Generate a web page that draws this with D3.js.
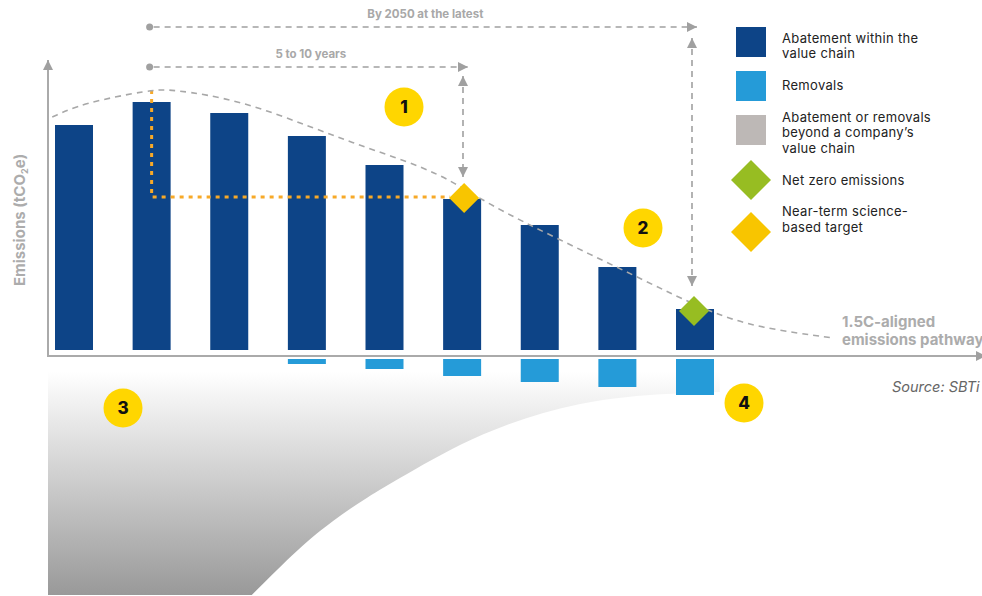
<!DOCTYPE html>
<html>
<head>
<meta charset="utf-8">
<script src="https://cdn.jsdelivr.net/npm/d3@7"></script>
<style>
  body { margin: 0; background: #fff; }
  svg { display: block; font-family: Inter, "Open Sans", sans-serif; }
</style>
</head>
<body>
<div id="chart"></div>
<script>
// periods along the x axis (index of each bar)
var periods = [0, 1, 2, 3, 4, 5, 6, 7, 8];
// abatement within the value chain (above the axis)
var abatement = [225, 248, 237, 214, 185, 151, 125, 83, 41];
// removals (below the axis)
var removals = [0, 0, 0, 5, 10, 17, 23, 28, 36];
// 1.5C-aligned emissions pathway, [period, value]
var pathway = [[-0.28, 233], [0.12, 247], [0.98, 260], [1.24, 261], [2.14, 250], [3.08, 222],
    [3.85, 200], [4.72, 177], [5.3, 147], [6.26, 110], [7.26, 73], [8.2, 37], [8.84, 22], [9.78, 12]];
// markers
var nearTerm = { period: 5, value: 153 };
var netZero = { period: 8, value: 39 };
var baseYear = { period: 1, value: 260 };
// boundary of the "beyond value chain" area, [period, removal value]
var beyondEdge = [[2.29, 236], [2.91, 188], [3.34, 161], [3.78, 138], [4.2, 119], [5.23, 73],
    [6.52, 41], [7.72, 34], [8.32, 33]];

var legendItems = [
    { label: ["Abatement within the", "value chain"], color: "#0d4487", shape: "square" },
    { label: ["Removals"], color: "#259bd8", shape: "square" },
    { label: ["Abatement or removals", "beyond a company\u2019s", "value chain"], color: "#bdb8b6", shape: "square" },
    { label: ["Net zero emissions"], color: "#97bd22", shape: "diamond" },
    { label: ["Near-term science-", "based target"], color: "#f8c500", shape: "diamond" }
];

var width = 982, height = 596;
var svg = d3.select("#chart").append("svg")
    .attr("width", width).attr("height", height);

var x = d3.scaleLinear().domain([0, 8]).range([74, 695]);
var y = d3.scaleLinear().domain([0, 250]).range([350, 100]);
var yr = d3.scaleLinear().domain([0, 50]).range([359, 409]);
var barW = 38;
var axisGray = "#aaaaaa";

var defs = svg.append("defs");
var grad = defs.append("linearGradient").attr("id", "fade")
    .attr("gradientUnits", "userSpaceOnUse")
    .attr("x1", 0).attr("y1", 372).attr("x2", 0).attr("y2", 595);
grad.append("stop").attr("offset", 0).attr("stop-color", "#ffffff");
grad.append("stop").attr("offset", 1).attr("stop-color", "#999999");

defs.append("marker").attr("id", "arrow")
    .attr("viewBox", "0 0 10 10").attr("refX", 10).attr("refY", 5)
    .attr("markerWidth", 13).attr("markerHeight", 10)
    .attr("markerUnits", "userSpaceOnUse")
    .attr("orient", "auto-start-reverse")
    .append("path").attr("d", "M0,0 L10,5 L0,10 Z").attr("fill", "#a0a0a0");

// gray area (3) below the chart: top edge, then the curve from right to left
var edge = d3.line().x(function (d) { return x(d[0]); }).y(function (d) { return yr(d[1]); })
    .curve(d3.curveBasis);
var revEdge = edge(beyondEdge.slice().reverse());
svg.append("path")
    .attr("d", "M48,364 L" + x(8.32) + ",364 L" + revEdge.slice(1) + " L48,595 Z")
    .attr("fill", "url(#fade)");

// axes
svg.append("line").attr("x1", 48).attr("x2", 48).attr("y1", 356).attr("y2", 60)
    .attr("stroke", axisGray).attr("stroke-width", 2).attr("marker-end", "url(#arrow)");
svg.append("line").attr("x1", 47).attr("x2", 986).attr("y1", 356).attr("y2", 356)
    .attr("stroke", axisGray).attr("stroke-width", 2).attr("marker-end", "url(#arrow)");

// abatement bars
svg.append("g").selectAll("rect").data(periods).enter().append("rect")
    .attr("x", function (d) { return x(d) - barW / 2; })
    .attr("y", function (d) { return y(abatement[d]); })
    .attr("width", barW)
    .attr("height", function (d) { return y(0) - y(abatement[d]); })
    .attr("fill", "#0d4487");

// removal bars
svg.append("g").selectAll("rect").data(periods.filter(function (d) { return removals[d] > 0; })).enter().append("rect")
    .attr("x", function (d) { return x(d) - barW / 2; })
    .attr("y", yr(0))
    .attr("width", barW)
    .attr("height", function (d) { return yr(removals[d]) - yr(0); })
    .attr("fill", "#259bd8");

// orange base-year -> near-term lines
svg.append("path")
    .attr("d", "M" + x(baseYear.period) + "," + y(baseYear.value) + " L" + x(baseYear.period) + "," + y(nearTerm.value) +
        " L" + (x(nearTerm.period) - 12) + "," + y(nearTerm.value))
    .attr("fill", "none").attr("stroke", "#f7a928").attr("stroke-width", 3)
    .attr("stroke-dasharray", "4,5");

// pathway
var line = d3.line().x(function (d) { return x(d[0]); }).y(function (d) { return y(d[1]); })
    .curve(d3.curveBasis);
svg.append("path").attr("d", line(pathway))
    .attr("fill", "none").attr("stroke", "#a8a8a8").attr("stroke-width", 1.6)
    .attr("stroke-dasharray", "6,5");

// diamonds
function diamond(g, cx, cy, r, color) {
    g.append("path")
        .attr("d", "M" + cx + "," + (cy - r) + " L" + (cx + r) + "," + cy + " L" + cx + "," + (cy + r) + " L" + (cx - r) + "," + cy + " Z")
        .attr("fill", color);
}
diamond(svg, x(nearTerm.period) + 2, y(nearTerm.value) + 1, 15, "#f8c500");
diamond(svg, x(netZero.period) - 1, y(netZero.value), 15, "#97bd22");

// timeline annotations
function timeline(x0, x1, yTop, yArrowTop, yArrowBottom, label) {
    svg.append("circle").attr("cx", x0).attr("cy", yTop).attr("r", 3.5).attr("fill", "#a0a0a0");
    svg.append("line").attr("x1", x0 + 4).attr("x2", x1).attr("y1", yTop).attr("y2", yTop)
        .attr("stroke", "#a0a0a0").attr("stroke-width", 1.6).attr("stroke-dasharray", "6,5")
        .attr("marker-end", "url(#arrow)");
    svg.append("line").attr("x1", x1 - 5).attr("x2", x1 - 5).attr("y1", yArrowTop).attr("y2", yArrowBottom)
        .attr("stroke", "#a0a0a0").attr("stroke-width", 1.6).attr("stroke-dasharray", "6,5")
        .attr("marker-start", "url(#arrow)").attr("marker-end", "url(#arrow)");
    svg.append("text").attr("x", (x0 + x1) / 2 + 2).attr("y", yTop - 9)
        .attr("text-anchor", "middle").attr("font-size", 11.5).attr("font-weight", 700)
        .attr("fill", "#a8a8a8").text(label);
}
timeline(x(baseYear.period) - 2, 697, 27, 38, 286, "By 2050 at the latest");
timeline(x(baseYear.period) - 2, 468, 67, 76, 177, "5 to 10 years");

// numbered circles
var badges = [[404, 107, "1"], [643, 228, "2"], [123, 408, "3"], [744, 403, "4"]];
var badge = svg.append("g").selectAll("g").data(badges).enter().append("g");
badge.append("circle").attr("cx", function (d) { return d[0]; }).attr("cy", function (d) { return d[1]; })
    .attr("r", 19.5).attr("fill", "#ffd600");
badge.append("text").attr("x", function (d) { return d[0]; }).attr("y", function (d) { return d[1] + 6; })
    .attr("text-anchor", "middle").attr("font-size", 17).attr("font-weight", 800).attr("fill", "#111")
    .text(function (d) { return d[2]; });

// y label
var yl = svg.append("text").attr("transform", "translate(25,220) rotate(-90)")
    .attr("text-anchor", "middle").attr("font-size", 15).attr("font-weight", 700).attr("fill", "#acacac");
yl.append("tspan").text("Emissions (tCO");
yl.append("tspan").attr("font-size", 9).attr("dy", 3).text("2");
yl.append("tspan").attr("dy", -3).text("e)");

// pathway label
var pl = svg.append("text").attr("font-size", 15).attr("font-weight", 700).attr("fill", "#acacac");
pl.append("tspan").attr("x", 842).attr("y", 327).text("1.5C-aligned");
pl.append("tspan").attr("x", 842).attr("y", 345).text("emissions pathway");

// source
svg.append("text").attr("x", 892).attr("y", 392).attr("font-size", 14.5).attr("font-style", "italic")
    .attr("fill", "#666").text("Source: SBTi");

// legend
var ly = [27, 71, 115, 165, 217];
var baselines = [[43, 58], [90], [122, 137, 153], [185], [216, 232]];
var lg = svg.append("g").selectAll("g").data(legendItems).enter().append("g");
lg.each(function (d, i) {
    var g = d3.select(this);
    if (d.shape === "square") {
        g.append("rect").attr("x", 736).attr("y", ly[i]).attr("width", 30).attr("height", 30).attr("fill", d.color);
    } else {
        diamond(g, 751, ly[i] + 15, 20, d.color);
    }
    var t = g.append("text").attr("font-size", 13).attr("letter-spacing", 0.3).attr("fill", "#222");
    d.label.forEach(function (s, k) {
        t.append("tspan").attr("x", 782).attr("y", baselines[i][k]).text(s);
    });
});
</script>
</body>
</html>
